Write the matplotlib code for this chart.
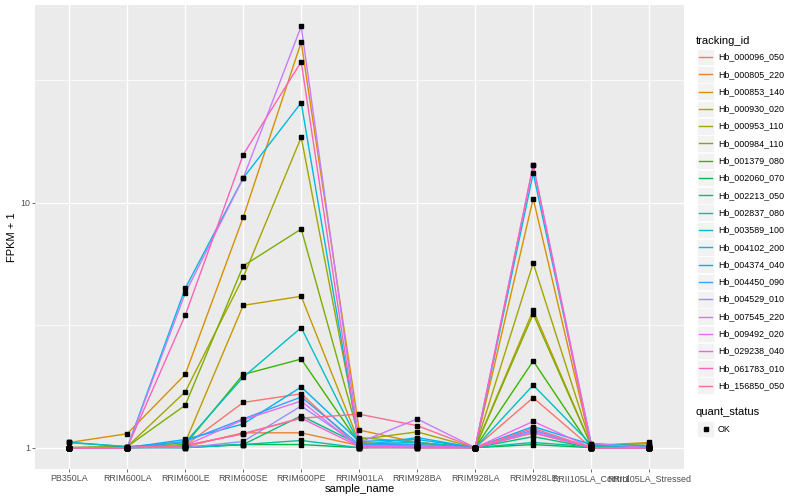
import numpy as np
import matplotlib
matplotlib.use("Agg")
import matplotlib.pyplot as plt
from matplotlib.patches import Rectangle
from matplotlib.lines import Line2D

plt.rcParams['font.family'] = ['Liberation Sans', 'DejaVu Sans']

samples = ["PB350LA", "RRIM600LA", "RRIM600LE", "RRIM600SE", "RRIM600PE",
           "RRIM901LA", "RRIM928BA", "RRIM928LA", "RRIM928LE",
           "RRII105LA_Control", "RRII105LA_Stressed"]

tracking_ids = ["Hb_000096_050", "Hb_000805_220", "Hb_000853_140", "Hb_000930_020",
                "Hb_000953_110", "Hb_000984_110", "Hb_001379_080", "Hb_002060_070",
                "Hb_002213_050", "Hb_002837_080", "Hb_003589_100", "Hb_004102_200",
                "Hb_004374_040", "Hb_004450_090", "Hb_004529_010", "Hb_007545_220",
                "Hb_009492_020", "Hb_029238_040", "Hb_061783_010", "Hb_156850_050"]

# ggplot default hue palette for 20 levels
colors = ["#F8766D", "#EA8331", "#D89000", "#C09B00", "#A3A500", "#7CAE00", "#39B600",
          "#00BB4E", "#00BF7D", "#00C1A3", "#00BFC4", "#00BAE0", "#00B0F6", "#35A2FF",
          "#9590FF", "#C77CFF", "#E76BF3", "#FA62DB", "#FF62BC", "#FF6C91"]

# FPKM + 1, one row per tracking_id, one column per sample
fpkm = [
    [1.00, 1.00, 1.02, 1.53, 1.66, 1.00, 1.02, 1.00, 1.60, 1.00, 1.00],
    [1.00, 1.00, 1.01, 1.15, 1.15, 1.02, 1.00, 1.00, 1.15, 1.00, 1.00],
    [1.05, 1.14, 1.99, 8.72, 45.2, 1.18, 1.05, 1.00, 10.4, 1.02, 1.05],
    [1.00, 1.00, 1.05, 3.81, 4.15, 1.05, 1.02, 1.00, 3.64, 1.02, 1.04],
    [1.00, 1.01, 1.69, 4.96, 18.5, 1.08, 1.16, 1.00, 5.67, 1.03, 1.02],
    [1.00, 1.01, 1.49, 5.52, 7.81, 1.10, 1.05, 1.00, 3.51, 1.02, 1.01],
    [1.00, 1.00, 1.03, 1.99, 2.30, 1.04, 1.03, 1.00, 2.26, 1.00, 1.00],
    [1.00, 1.00, 1.00, 1.03, 1.03, 1.00, 1.00, 1.00, 1.03, 1.00, 1.00],
    [1.00, 1.00, 1.01, 1.03, 1.35, 1.03, 1.02, 1.00, 1.11, 1.00, 1.00],
    [1.05, 1.01, 1.00, 1.03, 1.07, 1.00, 1.02, 1.00, 1.05, 1.01, 1.00],
    [1.05, 1.01, 1.05, 1.94, 3.09, 1.04, 1.05, 1.00, 1.80, 1.03, 1.02],
    [1.00, 1.00, 4.47, 12.6, 25.6, 1.02, 1.10, 1.00, 13.2, 1.04, 1.01],
    [1.00, 1.00, 1.08, 1.25, 1.77, 1.06, 1.08, 1.00, 1.22, 1.03, 1.00],
    [1.00, 1.00, 1.06, 1.31, 1.61, 1.03, 1.03, 1.00, 1.18, 1.00, 1.00],
    [1.00, 1.00, 1.00, 1.06, 1.48, 1.02, 1.01, 1.00, 1.17, 1.00, 1.00],
    [1.00, 1.00, 4.27, 12.6, 52.5, 1.05, 1.31, 1.00, 14.3, 1.04, 1.00],
    [1.00, 1.00, 1.02, 1.30, 1.55, 1.00, 1.02, 1.00, 1.28, 1.00, 1.00],
    [1.00, 1.00, 1.02, 1.14, 1.32, 1.01, 1.00, 1.00, 1.15, 1.00, 1.00],
    [1.00, 1.00, 3.47, 15.7, 37.6, 1.00, 1.00, 1.00, 14.2, 1.00, 1.00],
    [1.00, 1.00, 1.02, 1.14, 1.32, 1.37, 1.23, 1.00, 1.20, 1.00, 1.00],
]

W, H = 800, 500
fig = plt.figure(figsize=(8, 5), dpi=100)


def fx(px):
    return px / W


def fy(py):
    return 1 - py / H


# panel placement in pixels
left, right, top, bottom = 35, 684, 5, 469
ax = fig.add_axes([fx(left), fy(bottom), fx(right - left), (bottom - top) / H])
ax.set_facecolor("#EBEBEB")

x = np.arange(len(samples))
for vals, c in zip(fpkm, colors):
    ax.plot(x, vals, color=c, lw=1.0, zorder=3)
for vals in fpkm:
    ax.plot(x, vals, ls="none", marker="s", ms=2.3, color="black", zorder=4)

ax.set_yscale("log")
ax.set_ylim(10 ** -0.087, 10 ** 1.807)
ax.set_xlim(-0.59, len(samples) - 1 + 0.6)
ax.set_xticks(x)
ax.set_xticklabels(samples)
ax.set_yticks([1, 10])
ax.set_yticklabels(["1", "10"])
ax.set_yticks([10 ** 0.5, 10 ** 1.5], minor=True)
ax.set_xticks([], minor=True)
ax.yaxis.set_minor_formatter(matplotlib.ticker.NullFormatter())

ax.grid(which="major", color="white", lw=1.0, zorder=1)
ax.grid(which="minor", axis="y", color="white", lw=0.5, zorder=1)
ax.set_axisbelow(True)
for s in ax.spines.values():
    s.set_visible(False)
ax.tick_params(which="major", length=2.0, width=0.5, color="#333333",
               labelsize=6.4, labelcolor="#4D4D4D", pad=1.5)
ax.tick_params(which="minor", length=0)

fig.text(fx(360), fy(489), "sample_name", ha="center", va="center", fontsize=8)
fig.text(fx(12), fy(237), "FPKM + 1", ha="center", va="center", fontsize=8, rotation=90)

# legend: tracking_id
fig.text(fx(696), fy(41), "tracking_id", ha="left", va="center", fontsize=8)
step = 17.3
for i, (tid, c) in enumerate(zip(tracking_ids, colors)):
    cy = 57 + i * step
    fig.patches.append(Rectangle((fx(697), fy(cy + 8.3)), 17 / W, 16.6 / H,
                                 transform=fig.transFigure, facecolor="#F2F2F2",
                                 edgecolor="white", lw=0.5))
    fig.lines.append(Line2D([fx(699), fx(712)], [fy(cy), fy(cy)],
                            transform=fig.transFigure, color=c, lw=1.0))
    fig.text(fx(718), fy(cy), tid, ha="left", va="center", fontsize=6.4)

# legend: quant_status
fig.text(fx(696), fy(412), "quant_status", ha="left", va="center", fontsize=8)
fig.patches.append(Rectangle((fx(697), fy(429 + 8.3)), 17 / W, 16.6 / H,
                             transform=fig.transFigure, facecolor="#F2F2F2",
                             edgecolor="white", lw=0.5))
fig.lines.append(Line2D([fx(705.5)], [fy(429)], transform=fig.transFigure,
                        marker="s", ms=2.3, color="black", ls="none"))
fig.text(fx(718), fy(429), "OK", ha="left", va="center", fontsize=6.4)

fig.savefig("out.png", dpi=100)
plt.close(fig)
